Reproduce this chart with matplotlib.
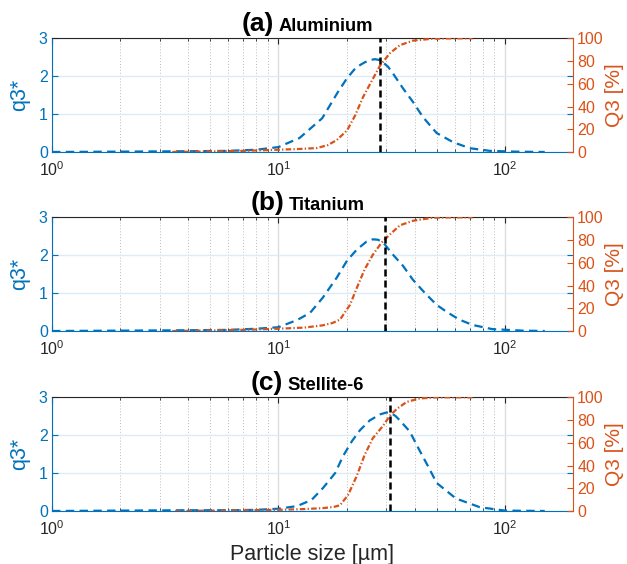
import matplotlib
matplotlib.use("Agg")
import matplotlib.pyplot as plt
from matplotlib.offsetbox import TextArea, HPacker, AnchoredOffsetbox
from matplotlib.ticker import LogLocator, NullFormatter

plt.rcParams['font.family'] = ['Liberation Sans', 'DejaVu Sans']
plt.rcParams['mathtext.default'] = 'regular'

## values
labels = ["(a)", "(b)", "(c)"]
materials = ["Aluminium", "Titanium", "Stellite-6"]

# q3* density (left axis)
x_q_a = [1, 2, 4, 6, 8, 10, 12.4, 15.6, 18.3, 20.1, 21.8, 23, 24.1, 25.5, 26.7, 27.8, 28.9, 30.5, 32, 35.5, 39.3, 43.5, 50, 59, 70, 86, 110, 150]
q_a = [0, 0.01, 0.02, 0.03, 0.06, 0.13, 0.37, 0.89, 1.58, 1.95, 2.2, 2.3, 2.37, 2.43, 2.45, 2.43, 2.37, 2.25, 2.08, 1.68, 1.32, 0.92, 0.5, 0.26, 0.1, 0.03, 0.01, 0]
x_q_b = [1, 2, 4, 6, 8, 10, 12.1, 13.8, 15.7, 18.1, 20.1, 22.2, 24.5, 26.1, 27.5, 29, 32, 35.5, 39.3, 44.4, 50, 55.5, 63, 72, 88, 120, 150]
q_b = [0, 0.01, 0.02, 0.03, 0.06, 0.1, 0.29, 0.48, 0.88, 1.41, 1.86, 2.15, 2.36, 2.42, 2.41, 2.34, 2.02, 1.72, 1.35, 1.0, 0.69, 0.5, 0.3, 0.16, 0.05, 0.01, 0]
x_q_c = [1, 2, 4, 6, 8, 10, 12.1, 14, 15.7, 17.8, 19.3, 21.1, 22.9, 25.3, 28.1, 30, 31.6, 33, 34.4, 38, 42, 45.8, 50, 60.8, 77.5, 100, 150]
q_c = [0, 0.01, 0.02, 0.02, 0.03, 0.06, 0.13, 0.29, 0.6, 1.0, 1.45, 1.84, 2.13, 2.39, 2.55, 2.6, 2.58, 2.5, 2.39, 2.1, 1.6, 1.18, 0.74, 0.33, 0.1, 0.01, 0]

# Q3 cumulative (right axis, %)
x_Q_a = [3.4, 5, 7, 10, 12.5, 14.8, 16.5, 18.1, 20.1, 21.8, 23.6, 25.9, 28.1, 31.1, 34.4, 39.3, 48, 60, 72]
Q_a = [0, 0.5, 1, 2, 2.7, 3.5, 6, 10.5, 19, 32, 48, 63, 76, 87, 94, 98, 99.7, 100, 100]
x_Q_b = [3.4, 5, 7, 10, 13, 15.7, 17.3, 18.7, 20.7, 22.2, 24, 26.1, 28.6, 31.1, 34.4, 39.3, 48, 60, 72]
Q_b = [0, 0.5, 1, 2, 3, 5, 7, 10, 23, 38, 54, 67, 78, 85, 93, 97, 99.7, 100, 100]
x_Q_c = [3.5, 5, 7, 10, 13, 15.7, 17.5, 18.7, 20.3, 22.2, 24, 26.1, 29, 31.1, 33.4, 36.9, 42, 50, 72]
Q_c = [0, 0.3, 0.6, 1, 1.7, 2.5, 3.5, 5, 14, 31, 49, 64, 75, 84, 90, 96, 99, 100, 100]

# dashed marker lines
x_mark = [28.1, 29.5, 31.1]

xq = [x_q_a, x_q_b, x_q_c]
qs = [q_a, q_b, q_c]
xQ = [x_Q_a, x_Q_b, x_Q_c]
Qs = [Q_a, Q_b, Q_c]

blue = '#0072BD'
orange = '#D95319'
dark = '#262626'

fig = plt.figure(figsize=(6.27, 5.64), dpi=100)
bottoms = [0.7305, 0.4131, 0.094]

for i in range(3):
    ax = fig.add_axes([0.0829, bottoms[i], 0.831, 0.2015])
    ax2 = ax.twinx()

    ax.plot(xq[i], qs[i], color=blue, lw=1.6, linestyle=(0, (3.8, 2.4)))
    ax2.plot(xQ[i], Qs[i], color=orange, lw=1.6, linestyle=(0, (2.5, 1, 0.6, 1)))
    ax2.axvline(x_mark[i], color='black', lw=1.8, linestyle=(0, (2.8, 1.6)))

    ax.set_xscale('log')
    ax.set_xlim(1, 200)
    ax.set_ylim(0, 3)
    ax2.set_ylim(0, 100)
    ax.set_yticks([0, 1, 2, 3])
    ax2.set_yticks([0, 20, 40, 60, 80, 100])
    ax.xaxis.set_minor_locator(LogLocator(base=10, subs=range(2, 10)))
    ax.xaxis.set_minor_formatter(NullFormatter())

    # grid
    ax.yaxis.grid(True, color='#DCEBF6', lw=1)
    ax.xaxis.grid(True, which='major', color='#DDDDDD', lw=1)
    ax.xaxis.grid(True, which='minor', color='#BBBBBB', lw=0.7, linestyle=(0, (1, 2)))
    ax.set_axisbelow(True)

    # spines
    ax.spines['left'].set_color(blue)
    ax.spines['bottom'].set_color(blue)
    ax.spines['top'].set_color(dark)
    ax.spines['right'].set_visible(False)
    for s in ['left', 'top', 'bottom']:
        ax2.spines[s].set_visible(False)
    ax2.spines['right'].set_color(orange)

    ax.tick_params(axis='y', which='both', direction='in', colors=blue, labelsize=11.5,
                   right=True, length=4, pad=3)
    ax.tick_params(axis='x', which='both', direction='in', colors=dark, labelsize=11.5,
                   top=True, pad=6)
    ax.tick_params(axis='x', which='major', length=4)
    ax.tick_params(axis='x', which='minor', length=2.5)
    ax2.tick_params(axis='y', direction='in', colors=orange, labelsize=11.5, length=4, pad=3)

    ax.set_ylabel('q3*', color=blue, fontsize=15.5, labelpad=6)
    ax2.set_ylabel('Q3 [%]', color=orange, fontsize=15, labelpad=0.5)

    t1 = TextArea(labels[i], textprops=dict(fontsize=19, fontweight='bold', color='black'))
    t2 = TextArea(materials[i], textprops=dict(fontsize=13.2, fontweight='bold', color='black'))
    box = HPacker(children=[t1, t2], align='baseline', pad=0, sep=3)
    title = AnchoredOffsetbox(loc='lower center', child=box, pad=0, frameon=False,
                              bbox_to_anchor=(0.49, 1.0), bbox_transform=ax.transAxes,
                              borderpad=0.2)
    ax2.add_artist(title)

    if i == 2:
        ax.set_xlabel('Particle size [µm]', fontsize=15.5, color=dark, labelpad=4)

plt.savefig('out.png', dpi=100)
